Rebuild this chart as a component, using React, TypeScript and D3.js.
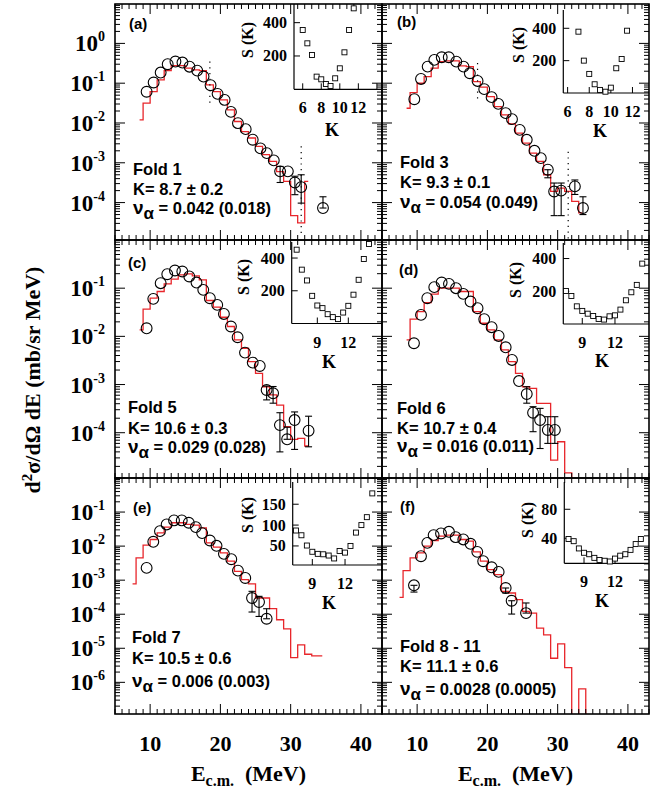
import React from 'react';
import * as d3 from 'd3';

const W = 663;
const H = 791;

// ---------- axes / tick labels ----------
const xDomain = [5, 43];
const xTickLabels = [10, 20, 30, 40];
const row1Decades = [0, -1, -2, -3, -4];
const row2Decades = [-1, -2, -3, -4];
const row3Decades = [-1, -2, -3, -4, -5, -6];

// ---------- panel (a) Fold 1 ----------
const aE = [9.5, 10.5, 11.5, 12.5, 13.6, 14.6, 15.6, 16.7, 17.6, 18.6, 19.6, 20.6, 21.5, 22.5, 23.6, 24.6, 25.7, 26.6, 27.6, 28.5, 29.6, 30.6, 31.5, 34.6];
const aY = [0.061, 0.104, 0.185, 0.30, 0.35, 0.33, 0.26, 0.207, 0.147, 0.089, 0.054, 0.038, 0.019, 0.0099, 0.0070, 0.0038, 0.0023, 0.00175, 0.00115, 0.00061, 0.00061, 0.00032, 0.000245, 7.3e-5];
const aErr = [[19, 0.00032, 0.00081], [21, 0.000158, 0.00046], [22, 9.7e-5, 0.0005], [23, 7.3e-5, 0.00014]];
const aEdges = [8.5, 9, 10, 11, 12, 13, 14, 15, 16, 17, 18, 19, 20, 21, 22, 23, 24, 25, 26, 27, 28, 29, 30, 31, 32, 32.5];
const aHist = [0.012, 0.0316, 0.0615, 0.121, 0.207, 0.277, 0.277, 0.238, 0.216, 0.207, 0.0906, 0.0615, 0.038, 0.0214, 0.0109, 0.0061, 0.0042, 0.0026, 0.0016, 0.00108, 0.0006, 0.00034, 4.7e-5, 3.1e-5, 0.00034];
const aDots = [[18.5, 0.35, 0.027], [31.5, 0.0026, 1.7e-5]];
const aK = [6, 6.5, 7, 7.5, 8, 8.5, 9, 9.5, 10, 10.5, 11, 11.5];
const aS = [356, 276, 206, 76, 60, 32, 20, 66, 126, 222, 356, 486];

// ---------- panel (b) Fold 3 ----------
const bE = [9.6, 10.55, 11.5, 12.45, 13.5, 14.5, 15.57, 16.6, 17.5, 18.6, 19.55, 20.6, 21.55, 22.6, 23.5, 24.6, 25.6, 26.7, 27.6, 28.6, 29.5, 30.5, 32.45, 33.6];
const bY = [0.0396, 0.128, 0.261, 0.385, 0.449, 0.449, 0.348, 0.261, 0.178, 0.114, 0.0708, 0.0446, 0.0303, 0.0177, 0.0125, 0.00673, 0.00378, 0.002, 0.00131, 0.00067, 0.00019, 0.0002, 0.000255, 7.3e-5];
const bErr = [[19, 0.00042, 0.00067], [20, 4.7e-5, 0.00031], [21, 4.7e-5, 0.00031], [22, 0.00016, 0.00037], [23, 5e-5, 0.00014]];
const bEdges = [8.5, 9, 10, 11, 12, 13, 14, 15, 16, 17, 18, 19, 20, 21, 22, 23, 24, 25, 26, 27, 28, 29, 30, 31, 32, 33, 33.5];
const bHist = [0.0235, 0.0582, 0.0998, 0.147, 0.238, 0.349, 0.363, 0.363, 0.272, 0.262, 0.110, 0.0793, 0.0462, 0.0259, 0.016, 0.00953, 0.00556, 0.00312, 0.00175, 0.00108, 0.0005, 0.000191, 0.000232, 0.000191, 0.000107, 5.5e-5];
const bDots = [[18.6, 0.32, 0.034], [31.5, 0.0019, 1e-6]];
const bK = [7, 7.5, 8, 8.5, 9, 9.5, 10, 10.5, 11, 11.5];
const bS = [379, 200, 118, 54, 19, 8, 33, 153, 210, 385];

// ---------- panel (c) Fold 5 ----------
const cE = [9.5, 10.45, 11.5, 12.44, 13.53, 14.58, 15.57, 16.6, 17.56, 18.5, 19.55, 20.5, 21.5, 22.45, 23.5, 24.6, 25.6, 26.58, 27.5, 28.47, 29.5, 30.56, 32.55];
const cY = [0.0147, 0.060, 0.127, 0.195, 0.233, 0.222, 0.175, 0.131, 0.0923, 0.0619, 0.045, 0.0292, 0.016, 0.00958, 0.0046, 0.00285, 0.00243, 0.00077, 0.00066, 0.000144, 7.3e-5, 0.000183, 0.00011];
const cErr = [[17, 0.00048, 0.00093], [18, 0.00041, 0.00091], [19, 4e-5, 0.00026], [20, 7.3e-5, 0.00013], [21, 4.5e-5, 0.00027], [22, 5.1e-5, 0.00022]];
const cEdges = [8.5, 9, 10, 11, 12, 13, 14, 15, 16, 17, 18, 19, 20, 21, 22, 23, 24, 25, 26, 27, 28, 29, 30, 31, 32, 32.6];
const cHist = [0.0136, 0.0366, 0.0619, 0.0853, 0.123, 0.154, 0.189, 0.199, 0.180, 0.149, 0.0555, 0.0403, 0.0249, 0.016, 0.00843, 0.00566, 0.00299, 0.00171, 0.0009, 0.00061, 0.000375, 0.000133, 7.3e-5, 7.6e-5, 5.3e-5];
const cK = [7, 7.5, 8, 8.5, 9, 9.5, 10, 10.5, 11, 11.5, 12, 12.5, 13, 13.5, 14];
const cS = [451, 329, 263, 169, 110, 94, 57, 39, 27, 67, 108, 176, 267, 394, 486];

// ---------- panel (d) Fold 6 ----------
const dE = [9.55, 10.55, 11.45, 12.44, 13.49, 14.53, 15.53, 16.57, 17.6, 18.6, 19.55, 20.6, 21.6, 22.6, 23.5, 24.5, 25.6, 26.5, 27.5, 28.6, 29.6];
const dY = [0.0072, 0.0279, 0.0619, 0.105, 0.131, 0.123, 0.1, 0.0762, 0.0528, 0.0384, 0.0227, 0.0155, 0.0102, 0.00593, 0.00324, 0.00118, 0.000635, 0.00026, 0.000183, 0.000114, 0.000114];
const dErr = [[16, 0.00041, 0.0009], [17, 0.000105, 0.000347], [18, 4.7e-5, 0.00032], [19, 6e-5, 0.000215], [20, 6e-5, 0.000215]];
const dEdges = [8.5, 9, 10, 11, 12, 13, 14, 15, 16, 17, 18, 19, 20, 21, 22, 23, 24, 25, 26, 27, 28, 29, 30, 31, 32, 33];
const dHist = [0.00843, 0.0227, 0.0327, 0.0503, 0.075, 0.1, 0.1, 0.1, 0.0853, 0.0853, 0.0327, 0.0187, 0.0136, 0.00843, 0.00522, 0.00299, 0.00171, 0.0009, 0.00083, 0.000406, 0.000406, 2.7e-5, 6.5e-5, 1.46e-5, 1e-8];
const dK = [7.5, 8, 8.5, 9, 9.5, 10, 10.5, 11, 11.5, 12, 12.5, 13, 13.5, 14, 14.5];
const dS = [202, 171, 108, 80, 63, 49, 31, 27, 47, 53, 88, 145, 194, 239, 369];

// ---------- panel (e) Fold 7 ----------
const eE = [9.5, 10.45, 11.4, 12.35, 13.4, 14.5, 15.5, 16.5, 17.4, 18.5, 19.45, 20.5, 21.55, 22.5, 23.54, 24.5, 25.5, 26.58];
const eY = [0.00229, 0.0134, 0.0275, 0.0433, 0.0568, 0.0568, 0.0485, 0.0362, 0.0241, 0.0146, 0.0102, 0.00592, 0.00412, 0.00191, 0.00116, 0.000299, 0.000228, 7.35e-5];
const eErr = [[15, 0.000116, 0.00047], [16, 8.6e-5, 0.000335], [17, 7.35e-5, 0.000145]];
const eEdges = [7.5, 8, 9, 10, 11, 12, 13, 14, 15, 16, 17, 18, 19, 20, 21, 22, 23, 24, 25, 26, 27, 28, 29, 30, 31, 32, 33, 34.5];
const eHist = [0.000773, 0.00451, 0.01064, 0.01566, 0.0246, 0.0361, 0.0485, 0.0485, 0.0433, 0.0414, 0.0345, 0.01247, 0.0093, 0.00633, 0.0036, 0.00182, 0.00104, 0.000773, 0.000299, 0.000299, 0.000145, 6.87e-5, 3.73e-5, 5.33e-6, 1.26e-5, 6.68e-6, 5.97e-6];
const eK = [7.5, 8, 8.5, 9, 9.5, 10, 10.5, 11, 11.5, 12, 12.5, 13, 13.5, 14, 14.5];
const eS = [87, 75.6, 51, 36, 31, 30, 27, 20, 38, 34, 50, 82, 100, 119, 176];

// ---------- panel (f) Fold 8 - 11 ----------
const fE = [9.55, 10.55, 11.45, 12.35, 13.4, 14.53, 15.48, 16.57, 17.6, 18.56, 19.4, 20.6, 21.6, 22.6, 23.45, 25.5];
const fY = [0.000706, 0.00505, 0.01247, 0.021, 0.0235, 0.0263, 0.0183, 0.0157, 0.0117, 0.00678, 0.0036, 0.00239, 0.00175, 0.000589, 0.000249, 0.000108];
const fErr = [[0, 0.000447, 0.000706], [13, 0.00042, 0.000589], [14, 0.000101, 0.000249], [15, 0.000108, 0.000214]];
const fEdges = [7.5, 8, 9, 10, 11, 12, 13, 14, 15, 16, 17, 18, 19, 20, 21, 22, 23, 24, 25, 26, 27, 28, 29, 30, 31, 32, 33, 34, 35];
const fHist = [0.000313, 0.00191, 0.00451, 0.00633, 0.00996, 0.01463, 0.01963, 0.021, 0.021, 0.01564, 0.01397, 0.00678, 0.0036, 0.00204, 0.00146, 0.00047, 0.00042, 0.000267, 0.000121, 0.000108, 3.9e-5, 2.48e-5, 5.1e-6, 1.35e-5, 2.7e-6, 1e-9, 6.4e-7, 1e-9];
const fK = [7.5, 8, 8.5, 9, 9.5, 10, 10.5, 11, 11.5, 12, 12.5, 13, 13.5, 14, 14.5];
const fS = [39, 36, 26, 20, 18, 13, 10, 9, 8, 12, 16, 18, 24, 32, 39];

// ---------- layout ----------
const COLS = [[115, 382], [382, 649]];
const ROWS = [
  { top: 4, bottom: 240, lo: -4.94, hi: 0.99, decades: row1Decades },
  { top: 240, bottom: 478, lo: -4.94, hi: 0, decades: row2Decades },
  { top: 478, bottom: 714, lo: -6.93, hi: 0, decades: row3Decades },
];

const PANELS = [
  { id: 'a', col: 0, row: 0, E: aE, Y: aY, err: aErr, edges: aEdges, hist: aHist, dots: aDots, K: aK, S: aS,
    inset: { left: 294, bottom: 89.3, top: 4, k: [5.06, 14.55], s: [0, 512], kTicks: [6, 8, 10, 12, 14], kLabels: [6, 8, 10, 12], sTicks: [200, 400], sLab: [247, 40], kLab: [332, 136] },
    letter: '(a)', letterPos: [129, 29], tx: 133, ty: [175, 195, 214], fold: 'Fold 1', kText: 'K= 8.7 \u00b1 0.2', nu: '0.042 (0.018)' },
  { id: 'b', col: 1, row: 0, E: bE, Y: bY, err: bErr, edges: bEdges, hist: bHist, dots: bDots, K: bK, S: bS,
    inset: { left: 563.3, bottom: 93, top: 10, k: [5.6, 13.53], s: [0, 513], kTicks: [6, 8, 10, 12], kLabels: [6, 8, 10, 12], sTicks: [200, 400], sLab: [518, 45], kLab: [600, 137] },
    letter: '(b)', letterPos: [397, 27], tx: 400, ty: [168, 188, 208], fold: 'Fold 3', kText: 'K= 9.3 \u00b1 0.1', nu: '0.054 (0.049)' },
  { id: 'c', col: 0, row: 1, E: cE, Y: cY, err: cErr, edges: cEdges, hist: cHist, dots: [], K: cK, S: cS,
    inset: { left: 291.7, bottom: 323.5, top: 242, k: [6.52, 15.26], s: [0, 498], kTicks: [9, 12], kLabels: [9, 12], sTicks: [200, 400], sLab: [243, 277], kLab: [329, 368] },
    letter: '(c)', letterPos: [128, 268], tx: 128, ty: [413, 434, 453], fold: 'Fold 5', kText: 'K= 10.6 \u00b1 0.3', nu: '0.029 (0.028)' },
  { id: 'd', col: 1, row: 1, E: dE, Y: dY, err: dErr, edges: dEdges, hist: dHist, dots: [], K: dK, S: dS,
    inset: { left: 563.3, bottom: 324, top: 243, k: [7.26, 15.12], s: [0, 495], kTicks: [9, 12], kLabels: [9, 12], sTicks: [200, 400], sLab: [515, 280], kLab: [602, 367] },
    letter: '(d)', letterPos: [399, 275], tx: 397, ty: [414, 434, 452], fold: 'Fold 6', kText: 'K= 10.7 \u00b1 0.4', nu: '0.016 (0.011)' },
  { id: 'e', col: 0, row: 2, E: eE, Y: eY, err: eErr, edges: eEdges, hist: eHist, dots: [], K: eK, S: eS,
    inset: { left: 292.7, bottom: 565, top: 482, k: [7.2, 15.39], s: [4.3, 203.3], kTicks: [9, 12], kLabels: [9, 12], sTicks: [50, 100, 150], sLab: [247, 515], kLab: [329, 609] },
    letter: '(e)', letterPos: [133, 513], tx: 132, ty: [643, 664, 687], fold: 'Fold 7', kText: 'K= 10.5 \u00b1 0.6', nu: '0.006 (0.003)' },
  { id: 'f', col: 1, row: 2, E: fE, Y: fY, err: fErr, edges: fEdges, hist: fHist, dots: [], K: fK, S: fS,
    inset: { left: 564.3, bottom: 563.3, top: 482, k: [7.09, 15.29], s: [5.5, 117.6], kTicks: [9, 12], kLabels: [9, 12], sTicks: [40, 80], sLab: [527, 520], kLab: [602, 607] },
    letter: '(f)', letterPos: [400, 512], tx: 400, ty: [652, 672, 695], fold: 'Fold 8 - 11', kText: 'K= 11.1 \u00b1 0.6', nu: '0.0028 (0.0005)' },
];

const SERIF = 'Liberation Serif, Times New Roman, serif';
const SANS = 'Liberation Sans, Arial, sans-serif';
const RED = '#e8262b';

function Panel({ p }) {
  const [x0, x1] = COLS[p.col];
  const row = ROWS[p.row];
  const x = d3.scaleLinear().domain(xDomain).range([x0, x1]);
  const y = d3.scaleLog().domain([Math.pow(10, row.lo), Math.pow(10, row.hi)]).range([row.bottom, row.top]);
  const clipId = 'clip-' + p.id;

  const pts = p.edges.map((e, i) => [x(e), y(p.hist[Math.min(i, p.hist.length - 1)])]);
  const histPath = d3.line().curve(d3.curveStepAfter)(pts);

  const yTicks = [];
  for (let dec = Math.floor(row.lo); dec <= Math.ceil(row.hi); dec++) {
    for (let m = 1; m <= 9; m++) {
      const v = m * Math.pow(10, dec);
      const lv = Math.log10(v);
      if (lv < row.lo - 1e-9 || lv > row.hi + 1e-9) continue;
      yTicks.push({ yy: y(v), len: m === 1 ? 10 : 5 });
    }
  }
  const xTicks = [];
  for (let e = Math.ceil(xDomain[0]); e <= xDomain[1]; e++) {
    xTicks.push({ xx: x(e), len: e % 10 === 0 ? 10 : 5 });
  }

  const ins = p.inset;
  const kx = d3.scaleLinear().domain(ins.k).range([ins.left, x1]);
  const sy = d3.scaleLinear().domain(ins.s).range([ins.bottom, ins.top]);

  return (
    <g>
      <defs>
        <clipPath id={clipId}>
          <rect x={x0} y={row.top} width={x1 - x0} height={row.bottom - row.top} />
        </clipPath>
      </defs>
      <g clipPath={`url(#${clipId})`}>
        <path d={histPath} fill="none" stroke={RED} strokeWidth={1.3} />
        {p.dots.map((d, i) => (
          <line key={'dt' + i} x1={x(d[0])} x2={x(d[0])} y1={y(d[1])} y2={y(d[2])}
            stroke="#000" strokeWidth={1.2} strokeDasharray="1.2,4.5" />
        ))}
        {p.err.map((er, i) => {
          const xx = x(p.E[er[0]]);
          const ylo = y(er[1]);
          const yhi = y(er[2]);
          return (
            <g key={'er' + i} stroke="#000" strokeWidth={1.1}>
              <line x1={xx} x2={xx} y1={ylo} y2={yhi} />
              <line x1={xx - 3.5} x2={xx + 3.5} y1={yhi} y2={yhi} />
              <line x1={xx - 3.5} x2={xx + 3.5} y1={ylo} y2={ylo} />
            </g>
          );
        })}
        {p.E.map((e, i) => (
          <circle key={'c' + i} cx={x(e)} cy={y(p.Y[i])} r={5.4} fill="none" stroke="#000" strokeWidth={1.1} />
        ))}
      </g>

      <rect x={x0} y={row.top} width={x1 - x0} height={row.bottom - row.top} fill="none" stroke="#000" strokeWidth={1.6} />
      <g stroke="#000" strokeWidth={1}>
        {yTicks.map((t, i) => (
          <g key={'yt' + i}>
            <line x1={x0} x2={x0 + t.len} y1={t.yy} y2={t.yy} />
            <line x1={x1} x2={x1 - t.len} y1={t.yy} y2={t.yy} />
          </g>
        ))}
        {xTicks.map((t, i) => (
          <g key={'xt' + i}>
            <line x1={t.xx} x2={t.xx} y1={row.bottom} y2={row.bottom - t.len} />
            <line x1={t.xx} x2={t.xx} y1={row.top} y2={row.top + t.len} />
          </g>
        ))}
      </g>

      <text x={p.letterPos[0]} y={p.letterPos[1]} fontFamily={SANS} fontWeight="bold" fontSize={15}>{p.letter}</text>
      <g fontFamily={SANS} fontWeight="bold" fontSize={16.5}>
        <text x={p.tx} y={p.ty[0]}>{p.fold}</text>
        <text x={p.tx} y={p.ty[1]}>{p.kText}</text>
        <text x={p.tx} y={p.ty[2]}>
          <tspan fontSize={19}>ν</tspan>
          <tspan dy={5} fontSize={17}>α</tspan>
          <tspan dy={-5}>{' = ' + p.nu}</tspan>
        </text>
      </g>

      <g stroke="#000" strokeWidth={1.2}>
        <line x1={ins.left} x2={ins.left} y1={ins.top} y2={ins.bottom} />
        <line x1={ins.left} x2={x1} y1={ins.bottom} y2={ins.bottom} />
        {ins.kTicks.map((k, i) => (
          <line key={'kt' + i} x1={kx(k)} x2={kx(k)} y1={ins.bottom} y2={ins.bottom - 6} strokeWidth={1} />
        ))}
        {ins.sTicks.map((s, i) => (
          <line key={'st' + i} x1={ins.left} x2={ins.left + 6} y1={sy(s)} y2={sy(s)} strokeWidth={1} />
        ))}
      </g>
      {p.K.map((k, i) => (
        <rect key={'sq' + i} x={kx(k) - 2.5} y={sy(p.S[i]) - 2.5} width={5} height={5} fill="#fff" stroke="#000" strokeWidth={0.9} />
      ))}
      <g fontFamily={SERIF} fontWeight="bold" fontSize={16}>
        {ins.kLabels.map((k, i) => (
          <text key={'kl' + i} x={kx(k)} y={ins.bottom + 24} textAnchor="middle">{k}</text>
        ))}
        {ins.sTicks.map((s, i) => (
          <text key={'sl' + i} x={ins.left - 7} y={sy(s) + 5.5} textAnchor="end">{s}</text>
        ))}
        <text x={ins.kLab[0]} y={ins.kLab[1]} textAnchor="middle" fontSize={18}>K</text>
        <text transform={`translate(${ins.sLab[0] + 5.5},${ins.sLab[1]}) rotate(-90)`} textAnchor="middle">S (K)</text>
      </g>
    </g>
  );
}

export default function App() {
  const xs = COLS.map((c) => d3.scaleLinear().domain(xDomain).range(c));
  return (
    <svg width={W} height={H} style={{ position: 'absolute', left: 0, top: 0, background: '#fff' }}>
      <rect x={0} y={0} width={W} height={H} fill="#fff" />
      {PANELS.map((p) => <Panel key={p.id} p={p} />)}

      <g fontFamily={SERIF} fontWeight="bold" fontSize={23}>
        {ROWS.map((r, ri) => {
          const y = d3.scaleLog().domain([Math.pow(10, r.lo), Math.pow(10, r.hi)]).range([r.bottom, r.top]);
          return r.decades.map((d) => (
            <text key={ri + '_' + d} x={105} y={y(Math.pow(10, d)) + 8} textAnchor="end">
              10<tspan dy={-10} fontSize={14}>{String(d)}</tspan>
            </text>
          ));
        })}
      </g>

      <g fontFamily={SERIF} fontWeight="bold" fontSize={22}>
        {xs.map((x, ci) => xTickLabels.map((v) => (
          <text key={ci + '_' + v} x={x(v)} y={751} textAnchor="middle">{v}</text>
        )))}
      </g>

      <g fontFamily={SERIF} fontWeight="bold" fontSize={22}>
        {COLS.map((c, ci) => (
          <text key={'xt' + ci} x={(c[0] + c[1]) / 2} y={781} textAnchor="middle">
            E<tspan dy={5} fontSize={16}>c.m.</tspan><tspan dy={-5}>{'\u00a0\u00a0(MeV)'}</tspan>
          </text>
        ))}
      </g>

      <text transform="translate(40,380) rotate(-90)" textAnchor="middle" fontFamily={SERIF} fontWeight="bold" fontSize={22}>
        d<tspan dy={-8} fontSize={15}>2</tspan><tspan dy={8}>σ/dΩ dE (mb/sr MeV)</tspan>
      </text>
    </svg>
  );
}
